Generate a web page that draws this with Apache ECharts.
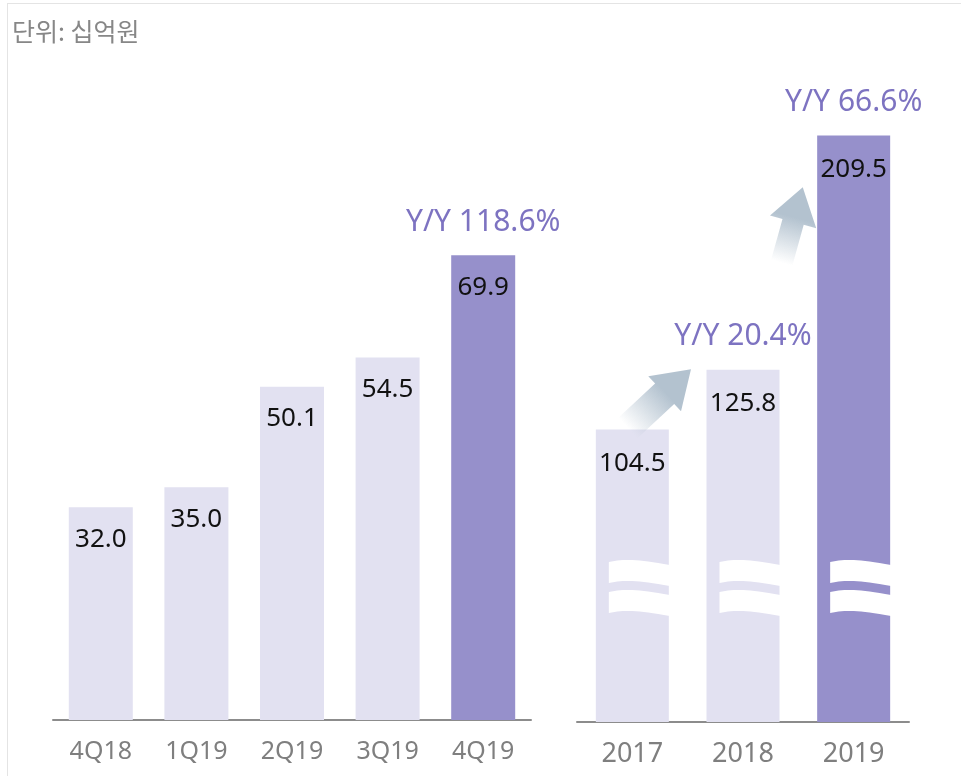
<!DOCTYPE html>
<html>
<head>
<meta charset="utf-8">
<script src="https://cdn.jsdelivr.net/npm/echarts@6/dist/echarts.min.js"></script>
<style>
  html, body { margin: 0; padding: 0; background: #fff; overflow: hidden; }
  #frame {
    position: absolute; left: 7px; top: 3px; width: 2000px; height: 2000px;
    border-left: 1px solid #e4e4e4; border-top: 1px solid #e4e4e4;
  }
  #chart { position: absolute; left: 0; top: 0; width: 961px; height: 776px; }
</style>
</head>
<body>
<div id="frame"></div>
<div id="chart"></div>
<script>
// 분기 매출 (십억원)
const quarters = ['4Q18', '1Q19', '2Q19', '3Q19', '4Q19']
const quarterValues = [32.0, 35.0, 50.1, 54.5, 69.9]
const quarterYoY = ['', '', '', '', 'Y/Y 118.6%']

// 연간 매출 (십억원)
const years = ['2017', '2018', '2019']
const yearValues = [104.5, 125.8, 209.5]
const yearYoY = ['', 'Y/Y 20.4%', 'Y/Y 66.6%']

// where the axis break marks sit on the yearly bars
const yearBreakValue = 48

const LIGHT = '#e2e1f1'
const DARK = '#9690cb'
const YOY_COLOR = '#7d73c1'
const FONT = '"Noto Sans", "Noto Sans CJK KR", sans-serif'

const chart = echarts.init(document.getElementById('chart'))

function barColor (count) {
  return (p) => (p.dataIndex === count - 1 ? DARK : LIGHT)
}

function valueLabel (distance) {
  return {
    show: true,
    position: 'insideTop',
    distance: distance,
    color: '#111',
    fontSize: 26,
    fontFamily: FONT,
    formatter: (p) => p.value.toFixed(1)
  }
}

function yoyLabel (texts) {
  return {
    show: true,
    position: 'top',
    distance: 18,
    color: YOY_COLOR,
    fontSize: 30,
    fontFamily: FONT,
    formatter: (p) => texts[p.dataIndex]
  }
}

function bezier (p0, p1, p2, p3, t) {
  const s = 1 - t
  return [
    s * s * s * p0[0] + 3 * s * s * t * p1[0] + 3 * s * t * t * p2[0] + t * t * t * p3[0],
    s * s * s * p0[1] + 3 * s * s * t * p1[1] + 3 * s * t * t * p2[1] + t * t * t * p3[1]
  ]
}

// wavy white band cutting through a bar
function waveBand (left, right, top, thick) {
  const w = right - left
  const edge = (y) => [[left, y + 1.5], [left + w * 0.25, y - 2], [left + w * 0.45, y - 1.5], [right, y + 4.5]]
  const pts = []
  const a = edge(top)
  const b = edge(top + thick)
  for (let i = 0; i <= 16; i++) pts.push(bezier(a[0], a[1], a[2], a[3], i / 16))
  for (let i = 16; i >= 0; i--) pts.push(bezier(b[0], b[1], b[2], b[3], i / 16))
  return pts
}

const YEAR_BAR_W = 73

function renderBreak (params, api) {
  const p = api.coord([api.value(0), api.value(1)])
  const left = p[0] - YEAR_BAR_W / 2 + 13
  const right = p[0] + YEAR_BAR_W / 2 + 1
  const c = p[1]
  return {
    type: 'group',
    children: [
      { type: 'polygon', shape: { points: waveBand(left, right, c - 27, 21) }, style: { fill: '#fff' } },
      { type: 'polygon', shape: { points: waveBand(left, right, c + 3, 21) }, style: { fill: '#fff' } }
    ]
  }
}

// growth arrows between yearly bars: tail/tip given as [band offset, value]
const arrowShapes = [
  { tail: [-0.04, 105], tip: [0.53, 126], shaft: 14 },
  { tail: [0.35, 164], tip: [0.54, 191], shaft: 11 }
]

function renderArrow (params, api) {
  const i = api.value(0)
  const shape = arrowShapes[params.dataIndex]
  const band = api.size([1, 0])[0]
  const t0 = api.coord([i, shape.tail[1]])
  const t1 = api.coord([i, shape.tip[1]])
  const tail = [t0[0] + shape.tail[0] * band, t0[1]]
  const tip = [t1[0] + shape.tip[0] * band, t1[1]]
  const dx = tip[0] - tail[0]
  const dy = tip[1] - tail[1]
  const len = Math.sqrt(dx * dx + dy * dy)
  const u = [dx / len, dy / len]
  const n = [-u[1], u[0]]
  const H = 36
  const W = 24
  const S = shape.shaft
  const base = [tip[0] - u[0] * H, tip[1] - u[1] * H]
  const pt = (o, k) => [o[0] + n[0] * k, o[1] + n[1] * k]
  return {
    type: 'polygon',
    shape: {
      points: [pt(tail, S), pt(base, S), pt(base, W), tip, pt(base, -W), pt(base, -S), pt(tail, -S)]
    },
    style: {
      fill: new echarts.graphic.LinearGradient(tail[0], tail[1], tip[0], tip[1], [
        { offset: 0, color: 'rgba(179, 194, 207, 0)' },
        { offset: 0.6, color: 'rgba(179, 194, 207, 1)' },
        { offset: 1, color: 'rgba(179, 194, 207, 1)' }
      ], true)
    }
  }
}

const axisLine = { show: true, lineStyle: { color: '#8c8c8c', width: 2 } }

const option = {
  animation: false,
  title: {
    text: '단위: 십억원',
    left: 12,
    top: 19,
    padding: 0,
    textStyle: { color: '#878787', fontSize: 25, fontWeight: 'normal', fontFamily: '"Noto Sans CJK KR", sans-serif' }
  },
  grid: [
    { left: 53, width: 478, top: 55, height: 665 },
    { left: 577, width: 332, top: 22, height: 700 }
  ],
  xAxis: [
    {
      gridIndex: 0,
      type: 'category',
      data: quarters,
      axisLine: axisLine,
      axisTick: { show: false },
      axisLabel: { color: '#7f7f7f', fontSize: 25, fontFamily: FONT, margin: 19 }
    },
    {
      gridIndex: 1,
      type: 'category',
      data: years,
      axisLine: axisLine,
      axisTick: { show: false },
      axisLabel: { color: '#7f7f7f', fontSize: 27, fontFamily: FONT, margin: 19 }
    }
  ],
  yAxis: [
    { gridIndex: 0, type: 'value', min: 0, max: 100, show: false },
    { gridIndex: 1, type: 'value', min: 0, max: 250, show: false }
  ],
  series: [
    {
      type: 'bar',
      xAxisIndex: 0,
      yAxisIndex: 0,
      data: quarterValues,
      barWidth: 64,
      itemStyle: { color: barColor(quarterValues.length) },
      label: valueLabel(19)
    },
    {
      type: 'bar',
      xAxisIndex: 0,
      yAxisIndex: 0,
      data: quarterValues,
      barWidth: 64,
      barGap: '-100%',
      itemStyle: { color: 'rgba(0,0,0,0)' },
      label: yoyLabel(quarterYoY)
    },
    {
      type: 'bar',
      xAxisIndex: 1,
      yAxisIndex: 1,
      data: yearValues,
      barWidth: YEAR_BAR_W,
      itemStyle: { color: barColor(yearValues.length) },
      label: valueLabel(21)
    },
    {
      type: 'bar',
      xAxisIndex: 1,
      yAxisIndex: 1,
      data: yearValues,
      barWidth: YEAR_BAR_W,
      barGap: '-100%',
      itemStyle: { color: 'rgba(0,0,0,0)' },
      label: yoyLabel(yearYoY)
    },
    {
      type: 'custom',
      xAxisIndex: 1,
      yAxisIndex: 1,
      z: 5,
      silent: true,
      clip: false,
      renderItem: renderBreak,
      data: years.map((y, i) => [i, yearBreakValue])
    },
    {
      type: 'custom',
      xAxisIndex: 1,
      yAxisIndex: 1,
      z: 5,
      silent: true,
      clip: false,
      renderItem: renderArrow,
      data: [[0, yearValues[0]], [1, yearValues[1]]]
    }
  ]
}

chart.setOption(option)
window.addEventListener('resize', chart.resize)
</script>
</body>
</html>
